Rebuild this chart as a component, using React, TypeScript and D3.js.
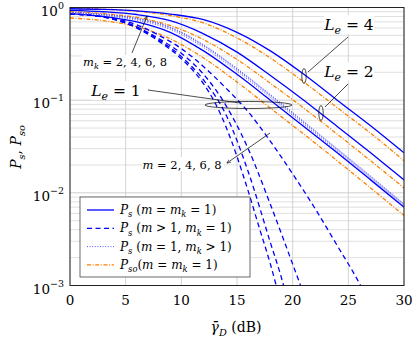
import * as d3 from 'd3';

// SNR grid (dB) for the smooth curves
const snrDb = [0, 3, 6, 9, 12, 15, 18, 21, 24, 27, 30];

// P_s (m = m_k = 1)
const psLe1 = [0.86, 0.8, 0.7, 0.54, 0.34, 0.19, 0.1, 0.052, 0.027, 0.0138, 0.007];
const psLe2 = [0.93, 0.9, 0.84, 0.72, 0.52, 0.33, 0.185, 0.1, 0.052, 0.027, 0.0138];
const psLe4 = [0.97, 0.955, 0.92, 0.85, 0.74, 0.54, 0.34, 0.19, 0.1, 0.053, 0.027];

// P_so (m = m_k = 1)
const psoLe1 = [0.77, 0.72, 0.62, 0.46, 0.285, 0.157, 0.082, 0.043, 0.0222, 0.0113, 0.0057];
const psoLe2 = [0.9, 0.86, 0.78, 0.64, 0.45, 0.275, 0.152, 0.082, 0.043, 0.0222, 0.0113];
const psoLe4 = [0.985, 0.96, 0.91, 0.82, 0.68, 0.47, 0.285, 0.157, 0.083, 0.044, 0.0222];

// P_s (m = 1, m_k > 1), L_e = 1
const psMk2 = [0.87, 0.82, 0.73, 0.58, 0.37, 0.205, 0.107, 0.055, 0.028, 0.0143, 0.0072];
const psMk4 = [0.88, 0.835, 0.75, 0.6, 0.385, 0.213, 0.111, 0.057, 0.029, 0.0147, 0.0074];
const psMk6 = [0.885, 0.84, 0.76, 0.61, 0.39, 0.217, 0.113, 0.058, 0.0295, 0.015, 0.0075];
const psMk8 = [0.89, 0.845, 0.765, 0.615, 0.395, 0.22, 0.115, 0.059, 0.03, 0.0152, 0.0076];

// P_s (m > 1, m_k = 1), L_e = 1  -> [dB, P]
const psM2: [number, number][] = [[0, 0.85], [2, 0.82], [4, 0.76], [6, 0.65], [8, 0.5], [10, 0.36], [12, 0.23], [14, 0.135], [16, 0.075], [18, 0.036], [20, 0.016], [22, 0.0068], [24, 0.0027], [26, 0.00105], [27, 0.0006]];
const psM4: [number, number][] = [[0, 0.85], [2, 0.82], [4, 0.75], [6, 0.62], [8, 0.46], [10, 0.32], [12, 0.19], [14, 0.088], [16, 0.03], [18, 0.0075], [20, 0.0017], [21, 0.0008]];
const psM6: [number, number][] = [[0, 0.85], [2, 0.82], [4, 0.745], [6, 0.61], [8, 0.445], [10, 0.295], [12, 0.165], [14, 0.07], [16, 0.017], [18, 0.0029], [19, 0.0012], [20, 0.0004]];
const psM8: [number, number][] = [[0, 0.85], [2, 0.82], [4, 0.74], [6, 0.6], [8, 0.43], [10, 0.28], [12, 0.15], [13, 0.095], [14, 0.052], [16, 0.0105], [17, 0.0042], [18, 0.0017], [19, 0.0006]];

const xTicks = [0, 5, 10, 15, 20, 25, 30];
const yTicks = [1, 0.1, 0.01, 0.001];
const yTickExp = ['0', '\u22121', '\u22122', '\u22123'];

const blue = '#0000ff';
const orange = '#ff8000';
const font = 'DejaVu Serif, Liberation Serif, serif';

// segments: [text, kind] kind: n normal, i italic, s subscript italic
type Seg = [string, string];
const MathText = ({ x, y, segs, size, anchor = 'start', transform }: { x: number; y: number; segs: Seg[]; size: number; anchor?: string; transform?: string }) => {
  let shift = 0;
  const out = segs.map((s, i) => {
    const target = s[1] === 's' ? size * 0.28 : 0;
    const dy = target - shift;
    shift = target;
    return (
      <tspan
        key={i}
        dy={dy}
        fontStyle={s[1] === 'n' ? 'normal' : 'italic'}
        fontSize={s[1] === 's' ? size * 0.7 : size}
      >
        {s[0]}
      </tspan>
    );
  });
  return (
    <text x={x} y={y} fontSize={size} textAnchor={anchor} transform={transform} style={{ whiteSpace: 'pre', fontFamily: font }}>
      {out}
    </text>
  );
};

export default function App() {
  const width = 415;
  const height = 338;
  const left = 70, right = 404, top = 7.5, bottom = 285.5;

  const x = d3.scaleLinear().domain([0, 30]).range([left, right]);
  const y = d3.scaleLog().domain([1e-3, 1]).range([bottom, top]);

  const line = d3.line<[number, number]>()
    .x((d) => x(d[0]))
    .y((d) => y(d[1]))
    .curve(d3.curveMonotoneX);

  const zip = (vals: number[]) => snrDb.map((v, i) => [v, vals[i]] as [number, number]);

  const gridY = y.ticks();

  const solid = { stroke: blue, strokeWidth: 1.3 };
  const dashed = { stroke: blue, strokeWidth: 1.3, strokeDasharray: '5 3.5' };
  const dotted = { stroke: '#5a5aff', strokeWidth: 1, strokeDasharray: '1 1.6' };
  const dashdot = { stroke: orange, strokeWidth: 1.3, strokeDasharray: '4 1.6 1 1.6' };

  const legendRows = [
    { style: solid, segs: [['P', 'i'], ['s', 's'], [' (', 'n'], ['m', 'i'], [' = ', 'n'], ['m', 'i'], ['k', 's'], [' = 1)', 'n']] as Seg[] },
    { style: dashed, segs: [['P', 'i'], ['s', 's'], [' (', 'n'], ['m', 'i'], [' > 1, ', 'n'], ['m', 'i'], ['k', 's'], [' = 1)', 'n']] as Seg[] },
    { style: dotted, segs: [['P', 'i'], ['s', 's'], [' (', 'n'], ['m', 'i'], [' = 1, ', 'n'], ['m', 'i'], ['k', 's'], [' > 1)', 'n']] as Seg[] },
    { style: dashdot, segs: [['P', 'i'], ['so', 's'], ['(', 'n'], ['m', 'i'], [' = ', 'n'], ['m', 'i'], ['k', 's'], [' = 1)', 'n']] as Seg[] },
  ];

  return (
    <svg width={width} height={height} style={{ position: 'absolute', left: 0, top: 0, background: '#fff', fontFamily: font }}>
      <defs>
        <clipPath id="plot">
          <rect x={left} y={top} width={right - left} height={bottom - top} />
        </clipPath>
        <marker id="arr" viewBox="0 0 10 10" refX="9" refY="5" markerWidth="6" markerHeight="6" orient="auto">
          <path d="M0,1 L10,5 L0,9" fill="none" stroke="#000" strokeWidth="1.2" />
        </marker>
      </defs>

      {/* grid */}
      {gridY.map((v, i) => (
        <line key={'gy' + i} x1={left} x2={right} y1={y(v)} y2={y(v)} stroke={yTicks.includes(v) ? '#c2c2c2' : '#d8d8d8'} strokeWidth={0.8} />
      ))}
      {xTicks.map((v) => (
        <line key={'gx' + v} x1={x(v)} x2={x(v)} y1={top} y2={bottom} stroke="#c8c8c8" strokeWidth={0.8} />
      ))}

      {/* curves */}
      <g clipPath="url(#plot)" fill="none">
        {[psoLe1, psoLe2, psoLe4].map((c, i) => (
          <path key={'pso' + i} d={line(zip(c)) || ''} {...dashdot} />
        ))}
        {[psM2, psM4, psM6, psM8].map((c, i) => (
          <path key={'m' + i} d={line(c) || ''} {...dashed} />
        ))}
        {[psLe1, psLe2, psLe4].map((c, i) => (
          <path key={'ps' + i} d={line(zip(c)) || ''} {...solid} />
        ))}
        {[psMk2, psMk4, psMk6, psMk8].map((c, i) => (
          <path key={'mk' + i} d={line(zip(c)) || ''} {...dotted} />
        ))}
      </g>

      {/* axis box */}
      <rect x={left} y={top} width={right - left} height={bottom - top} fill="none" stroke="#222" strokeWidth={1} />

      {/* x tick labels */}
      {xTicks.map((v) => (
        <text key={'xt' + v} x={x(v)} y={bottom + 19} fontSize={13.5} textAnchor="middle" style={{ fontFamily: font }}>{v}</text>
      ))}
      {/* y tick labels */}
      {yTicks.map((v, i) => (
        <text key={'yt' + i} x={left - 6} y={y(v) + 8} fontSize={13.5} textAnchor="end" style={{ fontFamily: font }}>
          10<tspan fontSize={9.5} dy={-7}>{yTickExp[i]}</tspan>
        </text>
      ))}

      {/* axis labels */}
      <MathText x={236} y={332} size={14} anchor="middle" segs={[['\u03b3\u0304', 'i'], ['D', 's'], [' (dB)', 'n']]} />
      <MathText x={0} y={0} size={14} anchor="middle" transform="translate(21,147) rotate(-90)" segs={[['P', 'i'], ['s', 's'], [', ', 'n'], ['P', 'i'], ['so', 's']]} />

      {/* annotations */}
      <g fill="none" stroke="#000" strokeWidth={0.7}>
        <ellipse cx={304} cy={76} rx={2.2} ry={7.5} />
        <ellipse cx={321} cy={113} rx={2.2} ry={7.5} />
        <ellipse cx={248.5} cy={105} rx={43.5} ry={3.5} />
        <line x1={348} y1={37} x2={308} y2={72} />
        <line x1={348} y1={84} x2={325} y2={107} />
        <line x1={148} y1={90} x2={240} y2={103} />
        <line x1={132} y1={53} x2={147} y2={16} markerEnd="url(#arr)" />
        <line x1={270} y1={133} x2={227} y2={163} markerEnd="url(#arr)" />
      </g>
      <rect x={324} y={15} width={50} height={19} fill="#fff" />
      <MathText x={349} y={30} size={15.5} anchor="middle" segs={[['L', 'i'], ['e', 's'], [' = 4', 'n']]} />
      <rect x={324} y={62} width={50} height={19} fill="#fff" />
      <MathText x={349} y={77} size={15.5} anchor="middle" segs={[['L', 'i'], ['e', 's'], [' = 2', 'n']]} />
      <rect x={91} y={81} width={50} height={19} fill="#fff" />
      <MathText x={116} y={96} size={15.5} anchor="middle" segs={[['L', 'i'], ['e', 's'], [' = 1', 'n']]} />
      <rect x={82} y={55} width={88} height={14} fill="#fff" />
      <MathText x={125} y={66} size={11.5} anchor="middle" segs={[['m', 'i'], ['k', 's'], [' = 2, 4, 6, 8', 'n']]} />
      <rect x={142} y={157} width={82} height={14} fill="#fff" />
      <MathText x={182} y={169} size={11.5} anchor="middle" segs={[['m', 'i'], [' = 2, 4, 6, 8', 'n']]} />

      {/* legend */}
      <rect x={80} y={197} width={170} height={80} fill="#fff" stroke="#444" strokeWidth={0.8} />
      {legendRows.map((r, i) => {
        const ry = 210 + i * 18.3;
        return (
          <g key={'lg' + i}>
            <line x1={87} x2={114} y1={ry} y2={ry} {...r.style} />
            <MathText x={120} y={ry + 4} size={12} segs={r.segs} />
          </g>
        );
      })}
    </svg>
  );
}
